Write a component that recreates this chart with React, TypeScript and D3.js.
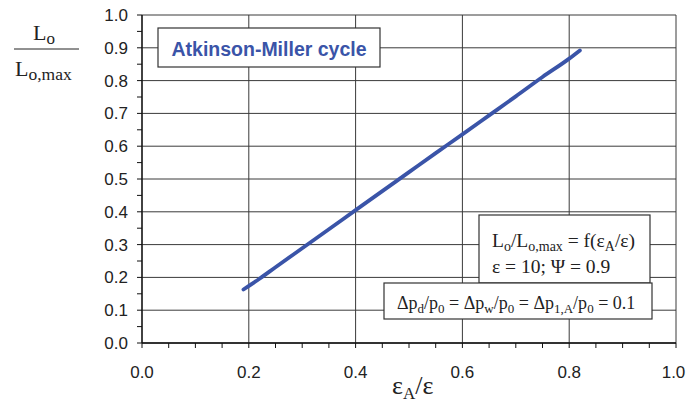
import React from "react";
import * as d3 from "d3";

const xValues = [0.19, 0.22, 0.25, 0.3, 0.35, 0.4, 0.45, 0.5, 0.55, 0.6, 0.65, 0.7, 0.75, 0.8, 0.82];
const yValues = [0.163, 0.196, 0.231, 0.289, 0.347, 0.405, 0.463, 0.521, 0.579, 0.636, 0.694, 0.752, 0.811, 0.867, 0.892];
const xTicks = [0, 0.2, 0.4, 0.6, 0.8, 1.0];
const yTicks = [0, 0.1, 0.2, 0.3, 0.4, 0.5, 0.6, 0.7, 0.8, 0.9, 1.0];
const minorTicks = d3.range(0, 1.0001, 0.05);
const titleText = "Atkinson-Miller cycle";

type Seg = [string, boolean];
const legend1: Seg[] = [["L", false], ["o", true], ["/L", false], ["o,max", true], [" = f(ε", false], ["A", true], ["/ε)", false]];
const legend2: Seg[] = [["ε = 10; Ψ = 0.9", false]];
const legend3: Seg[] = [["Δp", false], ["d", true], ["/p", false], ["0", true], [" = Δp", false], ["w", true], ["/p", false], ["0", true], [" = Δp", false], ["1,A", true], ["/p", false], ["0", true], [" = 0.1", false]];

const W = 686, H = 411;
const x = d3.scaleLinear().domain([0, 1]).range([142, 676]);
const y = d3.scaleLinear().domain([0, 1]).range([343, 15]);
const sans = "'Liberation Sans', Arial, sans-serif";
const serif = "'Liberation Serif', 'Times New Roman', serif";

function Rich({ segs, x0, y0, size, subSize }: { segs: Seg[]; x0: number; y0: number; size: number; subSize: number }) {
  const out: React.ReactNode[] = [];
  let inSub = false;
  segs.forEach(([t, sub], i) => {
    let dy = 0;
    if (sub && !inSub) dy = 4;
    if (!sub && inSub) dy = -4;
    inSub = sub;
    out.push(
      <tspan key={i} dy={dy} fontSize={sub ? subSize : size}>
        {t}
      </tspan>
    );
  });
  return (
    <text x={x0} y={y0} fontFamily={serif} fontSize={size} fill="#222">
      {out}
    </text>
  );
}

export default function App() {
  const line = d3
    .line<number>()
    .x((_, i) => x(xValues[i]))
    .y((d) => y(d))
    .curve(d3.curveMonotoneX);
  const gridColor = "#3a3a3a";
  return (
    <svg width={W} height={H} style={{ position: "absolute", left: 0, top: 0, background: "#fff" }}>
      {yTicks.map((t) => (
        <line key={"h" + t} x1={x(0)} x2={x(1)} y1={y(t)} y2={y(t)} stroke={gridColor} strokeWidth={1} />
      ))}
      {xTicks.map((t) => (
        <line key={"v" + t} x1={x(t)} x2={x(t)} y1={y(0)} y2={y(1)} stroke={gridColor} strokeWidth={1} />
      ))}
      <line x1={x(0)} x2={x(0)} y1={y(0)} y2={y(1)} stroke="#111" strokeWidth={1.3} />
      <line x1={x(0)} x2={x(1)} y1={y(0)} y2={y(0)} stroke="#111" strokeWidth={1.3} />
      {minorTicks.map((t) => (
        <line key={"xt" + t} x1={x(t)} x2={x(t)} y1={y(0)} y2={y(0) + 5} stroke="#111" strokeWidth={1} />
      ))}
      {minorTicks.map((t) => (
        <line key={"yt" + t} x1={x(0) - 5} x2={x(0)} y1={y(t)} y2={y(t)} stroke="#111" strokeWidth={1} />
      ))}
      {yTicks.map((t) => (
        <text key={"yl" + t} x={128} y={y(t) + 6} textAnchor="end" fontFamily={sans} fontSize={17} fill="#222">
          {t.toFixed(1)}
        </text>
      ))}
      {xTicks.map((t) => (
        <text key={"xl" + t} x={Math.min(x(t), W - 12.5)} y={378} textAnchor="middle" fontFamily={sans} fontSize={17} fill="#222">
          {t.toFixed(1)}
        </text>
      ))}
      <text x={33} y={40} fontFamily={serif} fontSize={22} fill="#222">
        L<tspan fontSize={17} dy={4}>o</tspan>
      </text>
      <line x1={14} x2={79} y1={49} y2={49} stroke="#222" strokeWidth={1} />
      <text x={15} y={76} fontFamily={serif} fontSize={22} fill="#222">
        L<tspan fontSize={17.5} dy={4}>o,max</tspan>
      </text>
      <text x={392} y={394} fontFamily={serif} fontSize={26} fill="#222">
        ε<tspan fontSize={17} dy={5}>A</tspan>
        <tspan dy={-5}>/ε</tspan>
      </text>
      <path d={line(yValues) || ""} fill="none" stroke="#3a54a8" strokeWidth={3.8} strokeLinecap="round" />
      <rect x={158} y={28} width={222} height={39} fill="#fff" stroke="#333" strokeWidth={1.2} />
      <text x={269} y={56} textAnchor="middle" fontFamily={sans} fontWeight="bold" fontSize={19.5} fill="#3a54a8">
        {titleText}
      </text>
      <rect x={479} y={215} width={171} height={68} fill="#fff" stroke="#333" strokeWidth={1.2} />
      <Rich segs={legend1} x0={492} y0={247} size={19.5} subSize={14} />
      <Rich segs={legend2} x0={492} y0={273} size={19.5} subSize={14} />
      <rect x={384} y={283} width={268} height={36} fill="#fff" stroke="#333" strokeWidth={1.2} />
      <Rich segs={legend3} x0={397} y0={309} size={18} subSize={13} />
    </svg>
  );
}
